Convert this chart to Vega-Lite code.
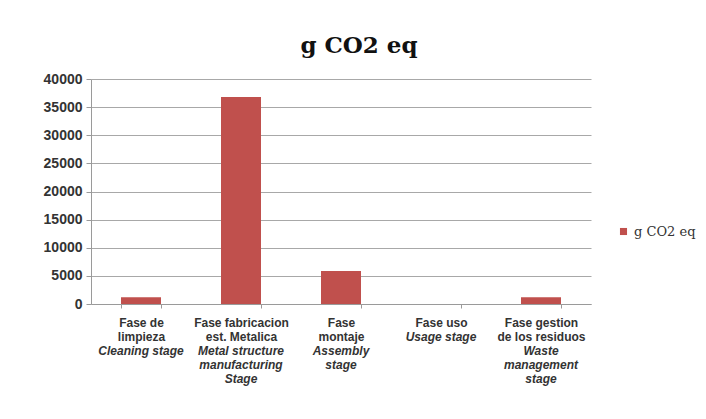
{
  "$schema": "https://vega.github.io/schema/vega-lite/v6.json",
  "width": 500,
  "height": 225,
  "autosize": {"type": "none"},
  "padding": {"left": 91, "top": 79, "right": 115, "bottom": 115},
  "background": "white",
  "title": {
    "text": "g CO2 eq",
    "font": "DejaVu Serif",
    "fontSize": 23,
    "fontWeight": "bold",
    "color": "#111111",
    "anchor": "middle",
    "frame": "group",
    "dx": 18,
    "offset": 14
  },
  "data": {
    "values": [
      {"stage": "Fase de|limpieza~Cleaning stage", "value": 1200},
      {"stage": "Fase fabricacion|est. Metalica~Metal structure|manufacturing|Stage", "value": 36800},
      {"stage": "Fase|montaje~Assembly|stage", "value": 5850},
      {"stage": "Fase uso~Usage stage", "value": 0},
      {"stage": "Fase gestion|de los residuos~Waste|management|stage", "value": 1200}
    ]
  },
  "config": {
    "view": {"stroke": null},
    "axis": {
      "labelFont": "Liberation Sans",
      "labelFontWeight": "bold",
      "labelColor": "#333333",
      "domainColor": "#9a9a9a",
      "tickColor": "#9a9a9a",
      "gridColor": "#a8a8a8",
      "title": null
    }
  },
  "encoding": {
    "y": {
      "field": "value",
      "type": "quantitative",
      "scale": {"domain": [0, 40000], "nice": false},
      "axis": {
        "values": [0, 5000, 10000, 15000, 20000, 25000, 30000, 35000, 40000],
        "format": "d",
        "labelFontSize": 14,
        "labelPadding": 4,
        "labelOverlap": false,
        "tickSize": 5,
        "grid": true
      }
    }
  },
  "layer": [
    {
      "mark": {"type": "bar"},
      "encoding": {
        "x": {
          "field": "stage",
          "type": "nominal",
          "sort": null,
          "scale": {"paddingInner": 0.6, "paddingOuter": 0.3},
          "axis": {
            "orient": "bottom",
            "labelExpr": "datum.value ? split(split(datum.value,'~')[0],'|') : ''",
            "labelAngle": 0,
            "labelBaseline": "top",
            "labelFontSize": 12,
            "labelLineHeight": 14,
            "labelPadding": 9,
            "tickSize": 4,
            "tickBand": "extent",
            "grid": false,
            "labelOverlap": false
          }
        },
        "color": {
          "datum": "g CO2 eq",
          "type": "nominal",
          "scale": {"range": ["#C0504D"]},
          "legend": {
            "orient": "none",
            "legendX": 526,
            "legendY": 146,
            "title": null,
            "symbolType": "square",
            "symbolSize": 50,
            "symbolStrokeWidth": 0,
            "labelFont": "DejaVu Serif",
            "labelFontSize": 13,
            "labelColor": "#333333"
          }
        }
      }
    },
    {
      "mark": {"type": "bar", "opacity": 0},
      "encoding": {
        "x": {
          "field": "stage",
          "type": "nominal",
          "sort": null,
          "axis": {
            "orient": "bottom",
            "labelExpr": "datum.value ? split((length(split(split(datum.value,'~')[0],'|')) > 1 ? '\u200b|\u200b|' : '\u200b|') + split(datum.value,'~')[1], '|') : ''",
            "labelAngle": 0,
            "labelBaseline": "top",
            "labelAlign": "center",
            "labelFontSize": 12,
            "labelFontStyle": "italic",
            "labelLineHeight": 14,
            "labelPadding": 13,
            "tickSize": 4,
            "ticks": false,
            "domain": false,
            "grid": false,
            "labelOverlap": false
          }
        }
      }
    }
  ],
  "resolve": {"axis": {"x": "independent"}}
}
